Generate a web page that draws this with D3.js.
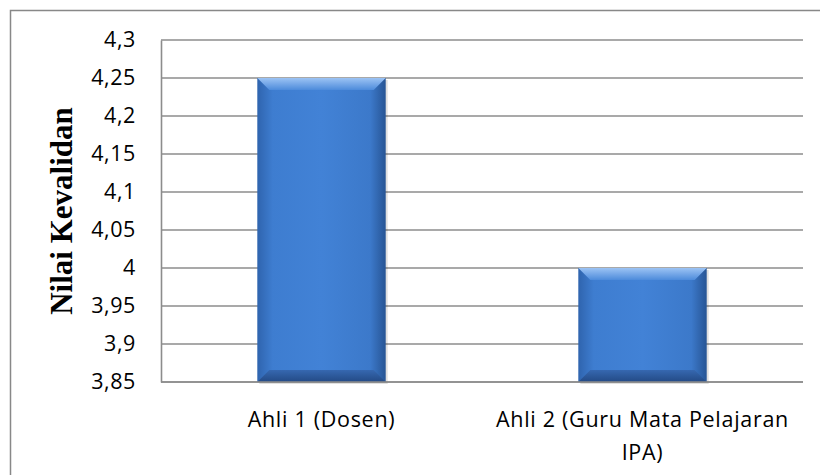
<!DOCTYPE html>
<html>
<head>
<meta charset="UTF-8">
<style>
	body { margin: 0; background: #fff; }
</style>
</head>
<body>
<script src="https://d3js.org/d3.v7.min.js"></script>
<script>
var categories = ["Ahli 1 (Dosen)", "Ahli 2 (Guru Mata Pelajaran IPA)"];
var categoryLines = [["Ahli 1 (Dosen)"], ["Ahli 2 (Guru Mata Pelajaran", "IPA)"]];
var values = [4.25, 4.0];
var tickValues = [3.85, 3.9, 3.95, 4, 4.05, 4.1, 4.15, 4.2, 4.25, 4.3];

var width = 820, height = 475;
var margin = {top: 40, right: 17, bottom: 93, left: 161};
var labelFont = "'Open Sans', sans-serif";

var svg = d3.select("body").append("svg")
	.attr("width", width)
	.attr("height", height);

// outer frame
svg.append("rect")
	.attr("x", 10.5).attr("y", 10.5)
	.attr("width", width).attr("height", height)
	.attr("fill", "none").attr("stroke", "#888").attr("stroke-width", 1.5);

var x = d3.scaleBand()
	.domain(categories)
	.range([margin.left, width - margin.right])
	.paddingInner(0.6)
	.paddingOuter(0.3);

var y = d3.scaleLinear()
	.domain([3.85, 4.3])
	.range([height - margin.bottom, margin.top]);

var fmt = function(d){ return String(+d.toFixed(2)).replace(".", ","); };

// gridlines
svg.append("g")
	.selectAll("line")
	.data(tickValues)
	.join("line")
	.attr("x1", margin.left).attr("x2", width - margin.right)
	.attr("y1", function(d){ return y(d); }).attr("y2", function(d){ return y(d); })
	.attr("stroke", "#8c8c8c").attr("stroke-width", 1.6);

var yAxis = svg.append("g")
	.attr("transform", "translate(" + margin.left + ",0)")
	.call(d3.axisLeft(y).tickValues(tickValues).tickFormat(fmt).tickSize(0).tickPadding(25));
yAxis.select(".domain").attr("stroke", "#8c8c8c").attr("stroke-width", 1.6);
yAxis.selectAll(".tick text")
	.attr("font-family", labelFont)
	.attr("font-size", 21.5)
	.attr("letter-spacing", 0.6)
	.attr("fill", "#000");

var defs = svg.append("defs");
var g1 = defs.append("linearGradient").attr("id", "face").attr("x1", 0).attr("x2", 1).attr("y1", 0).attr("y2", 0);
g1.append("stop").attr("offset", "0%").attr("stop-color", "#2f64ae");
g1.append("stop").attr("offset", "12%").attr("stop-color", "#3e7dd0");
g1.append("stop").attr("offset", "50%").attr("stop-color", "#4282d6");
g1.append("stop").attr("offset", "88%").attr("stop-color", "#3c79ca");
g1.append("stop").attr("offset", "100%").attr("stop-color", "#275595");
var g2 = defs.append("linearGradient").attr("id", "topbev").attr("x1", 0).attr("x2", 0).attr("y1", 0).attr("y2", 1);
g2.append("stop").attr("offset", "0%").attr("stop-color", "#9cc3f4");
g2.append("stop").attr("offset", "100%").attr("stop-color", "#4d8bdb");
var g3 = defs.append("linearGradient").attr("id", "botbev").attr("x1", 0).attr("x2", 0).attr("y1", 0).attr("y2", 1);
g3.append("stop").attr("offset", "0%").attr("stop-color", "#3668b0");
g3.append("stop").attr("offset", "100%").attr("stop-color", "#234a85");

var bev = 12;
var bars = svg.append("g").selectAll("g")
	.data(values)
	.join("g");

// shadow
bars.append("rect")
	.attr("x", function(d, i){ return x(categories[i]) + 2; })
	.attr("y", function(d){ return y(d) + 2; })
	.attr("width", x.bandwidth())
	.attr("height", function(d){ return y(3.85) - y(d); })
	.attr("fill", "#000").attr("opacity", 0.12);

bars.append("rect")
	.attr("x", function(d, i){ return x(categories[i]); })
	.attr("y", function(d){ return y(d); })
	.attr("width", x.bandwidth())
	.attr("height", function(d){ return y(3.85) - y(d); })
	.attr("fill", "url(#face)");

// top bevel
bars.append("path")
	.attr("d", function(d, i){
		var x0 = x(categories[i]), x1 = x0 + x.bandwidth(), y0 = y(d);
		return "M" + x0 + "," + y0 + "L" + x1 + "," + y0 + "L" + (x1 - bev) + "," + (y0 + bev) + "L" + (x0 + bev) + "," + (y0 + bev) + "Z";
	})
	.attr("fill", "url(#topbev)");

// bottom bevel
bars.append("path")
	.attr("d", function(d, i){
		var x0 = x(categories[i]), x1 = x0 + x.bandwidth(), y1 = y(3.85);
		return "M" + x0 + "," + y1 + "L" + x1 + "," + y1 + "L" + (x1 - bev) + "," + (y1 - bev) + "L" + (x0 + bev) + "," + (y1 - bev) + "Z";
	})
	.attr("fill", "url(#botbev)");

// baseline redraw over bars
svg.append("line")
	.attr("x1", margin.left).attr("x2", width - margin.right)
	.attr("y1", y(3.85)).attr("y2", y(3.85))
	.attr("stroke", "#8c8c8c").attr("stroke-width", 1.6);

// category labels
svg.append("g").selectAll("text")
	.data(categoryLines)
	.join("text")
	.attr("font-family", labelFont)
	.attr("font-size", 21.5)
	.attr("letter-spacing", 0.7)
	.attr("fill", "#000")
	.attr("text-anchor", "middle")
	.attr("x", function(d, i){ return x(categories[i]) + x.bandwidth() / 2; })
	.attr("y", 427)
	.each(function(lines){
		var t = d3.select(this);
		var cx = t.attr("x");
		lines.forEach(function(l, k){
			t.append("tspan").attr("x", cx).attr("dy", k ? 33 : 0).text(l);
		});
	});

svg.append("text")
	.attr("font-family", "'Liberation Serif', serif")
	.attr("font-size", 31)
	.attr("font-weight", "bold")
	.attr("fill", "#000")
	.attr("text-anchor", "middle")
	.attr("transform", "translate(72," + ((margin.top + height - margin.bottom) / 2) + ") rotate(-90)")
	.text("Nilai Kevalidan");
</script>
</body>
</html>
